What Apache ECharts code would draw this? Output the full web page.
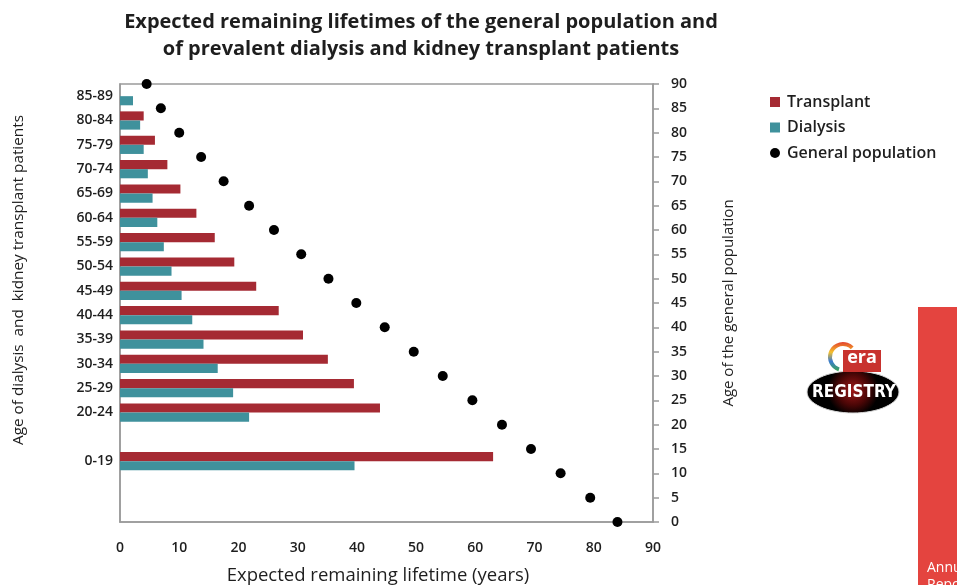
<!DOCTYPE html>
<html>
<head>
<meta charset="utf-8">
<script src="https://cdn.jsdelivr.net/npm/echarts@6/dist/echarts.min.js"></script>
<style>
  html, body { margin: 0; padding: 0; background: #ffffff; }
  #chart { width: 957px; height: 585px; }
</style>
</head>
<body>
<div id="chart"></div>
<script>
// Age bands of dialysis / transplant patients (bottom to top, 5-year slots on the left axis)
var ageBands = ['', '', '0-19', '', '20-24', '25-29', '30-34', '35-39', '40-44', '45-49',
                '50-54', '55-59', '60-64', '65-69', '70-74', '75-79', '80-84', '85-89'];

// Expected remaining lifetime (years) per age band
var transplant = [null, null, 63.0, null, 43.9, 39.5, 35.1, 30.9, 26.8, 23.0,
                  19.3, 16.0, 12.9, 10.2, 8.0, 5.9, 4.0, null];
var dialysis   = [null, null, 39.6, null, 21.8, 19.1, 16.5, 14.1, 12.2, 10.4,
                  8.7, 7.4, 6.3, 5.5, 4.7, 4.0, 3.4, 2.2];

// General population: age (right axis) and remaining lifetime (years)
var popAges     = [0, 5, 10, 15, 20, 25, 30, 35, 40, 45, 50, 55, 60, 65, 70, 75, 80, 85, 90];
var popLifetime = [84.0, 79.4, 74.4, 69.4, 64.5, 59.5, 54.5, 49.6, 44.7, 39.9,
                   35.2, 30.6, 26.0, 21.8, 17.5, 13.7, 10.0, 6.9, 4.5];

var lifetimeTicks = { min: 0, max: 90, interval: 10 };
var popAgeTicks   = { min: 0, max: 90, interval: 5 };

var RED = '#A52A33';
var TEAL = '#3F919C';
var AXIS = '#9a9a9a';
var TEXT = '#1e1e1e';
var FONT = '"Open Sans", "Noto Sans", sans-serif';

var chart = echarts.init(document.getElementById('chart'), null, { renderer: 'canvas' });

var popPoints = popAges.map(function (a, i) { return [popLifetime[i], a]; });

chart.setOption({
  backgroundColor: '#ffffff',
  animation: false,
  textStyle: { fontFamily: FONT },
  title: {
    text: 'Expected remaining lifetimes of the general population and\nof prevalent dialysis and kidney transplant patients',
    left: 416,
    top: 4,
    textAlign: 'center',
    textStyle: { fontFamily: FONT, fontSize: 20, fontWeight: 'bold', color: TEXT, lineHeight: 27 }
  },
  legend: {
    orient: 'vertical',
    left: 770,
    top: 94,
    padding: 0,
    itemWidth: 10,
    itemHeight: 10,
    itemGap: 9.5,
    textStyle: { fontFamily: FONT, fontSize: 16, fontWeight: 600, color: TEXT, padding: [0, 0, 0, 2] },
    data: [
      { name: 'Transplant', icon: 'rect' },
      { name: 'Dialysis', icon: 'rect' },
      { name: 'General population', icon: 'circle' }
    ]
  },
  grid: {
    left: 120,
    right: 304,
    top: 84,
    bottom: 63,
    outerBoundsMode: 'none',
    containLabel: false,
    show: true,
    borderColor: AXIS,
    borderWidth: 1.5,
    backgroundColor: 'transparent'
  },
  xAxis: {
    type: 'value',
    min: lifetimeTicks.min,
    max: lifetimeTicks.max,
    interval: lifetimeTicks.interval,
    name: 'Expected remaining lifetime (years)',
    nameLocation: 'middle',
    nameGap: 44,
    nameTextStyle: { fontFamily: FONT, fontSize: 18.5, color: TEXT, padding: [0, 17, 0, 0] },
    axisLine: { show: true, lineStyle: { color: AXIS, width: 1.5 } },
    axisTick: { show: false },
    splitLine: { show: false },
    axisLabel: { margin: 19, fontFamily: FONT, fontSize: 14, fontWeight: 600, color: TEXT }
  },
  yAxis: [
    {
      type: 'category',
      position: 'left',
      data: ageBands,
      axisLine: { show: true, lineStyle: { color: AXIS, width: 1.5 } },
      axisTick: { show: false },
      axisLabel: { margin: 7, fontFamily: FONT, fontSize: 14, fontWeight: 600, color: TEXT }
    },
    {
      type: 'value',
      position: 'right',
      min: popAgeTicks.min,
      max: popAgeTicks.max,
      interval: popAgeTicks.interval,
      name: 'Age of the general population',
      nameLocation: 'middle',
      nameGap: 68,
      nameRotate: 90,
      nameTextStyle: { fontFamily: FONT, fontSize: 15, color: TEXT },
      axisLine: { show: true, lineStyle: { color: AXIS, width: 1.5 } },
      axisTick: { show: true, length: 6, lineStyle: { color: AXIS, width: 1.5 } },
      splitLine: { show: false },
      axisLabel: { margin: 18, fontFamily: FONT, fontSize: 14, fontWeight: 600, color: TEXT }
    }
  ],
  series: [
    {
      name: 'Transplant',
      type: 'bar',
      yAxisIndex: 0,
      data: transplant,
      itemStyle: { color: RED },
      barGap: '0%',
      barCategoryGap: '25%'
    },
    {
      name: 'Dialysis',
      type: 'bar',
      yAxisIndex: 0,
      data: dialysis,
      itemStyle: { color: TEAL },
      barGap: '0%',
      barCategoryGap: '25%'
    },
    {
      name: 'General population',
      type: 'scatter',
      yAxisIndex: 1,
      data: popPoints,
      symbol: 'circle',
      symbolSize: 10,
      itemStyle: { color: '#000000', opacity: 1 },
      z: 5
    }
  ],
  graphic: [
    {
      type: 'text',
      x: 19,
      y: 280,
      rotation: Math.PI / 2,
      style: {
        text: 'Age of dialysis  and  kidney transplant patients',
        align: 'center',
        verticalAlign: 'middle',
        fontFamily: FONT,
        fontSize: 15.3,
        fill: TEXT
      }
    },
    // slide side panel
    {
      type: 'rect',
      shape: { x: 918, y: 307, width: 45, height: 290 },
      style: { fill: '#E4443F' }
    },
    {
      type: 'text',
      x: 927, y: 561,
      style: { text: 'Annual', fontFamily: FONT, fontSize: 14, fill: '#ffffff' }
    },
    {
      type: 'text',
      x: 927, y: 578,
      style: { text: 'Report', fontFamily: FONT, fontSize: 14, fill: '#ffffff' }
    },
    // registry badge
    {
      type: 'group',
      children: [
        {
          type: 'ellipse',
          shape: { cx: 853, cy: 392, rx: 46, ry: 21 },
          style: {
            fill: new echarts.graphic.RadialGradient(0.5, 0.45, 0.6, [
              { offset: 0, color: '#a01818' },
              { offset: 0.6, color: '#4a0606' },
              { offset: 1, color: '#000000' }
            ]),
            stroke: '#d9d9d9', lineWidth: 1
          }
        },
        {
          type: 'text',
          x: 854, y: 393,
          style: {
            text: 'REGISTRY', align: 'center', verticalAlign: 'middle',
            fontFamily: '"DejaVu Sans Condensed", "Liberation Sans Narrow", sans-serif',
            fontWeight: 'bold', fontSize: 17, fill: '#ffffff'
          }
        },
        {
          type: 'rect',
          shape: { x: 843, y: 350, width: 38, height: 17 },
          style: { fill: '#C8322E' }
        },
        {
          type: 'text',
          x: 862, y: 358,
          style: {
            text: 'era', align: 'center', verticalAlign: 'middle',
            fontFamily: FONT, fontWeight: 'bold', fontSize: 18, fill: '#ffffff'
          }
        },
        {
          type: 'rect',
          shape: { x: 843, y: 367, width: 38, height: 5 },
          style: { fill: '#C8322E' }
        },
        {
          type: 'arc',
          shape: { cx: 843, cy: 357, r: 13, startAngle: Math.PI * 0.6, endAngle: Math.PI * 1.75 },
          style: {
            stroke: new echarts.graphic.LinearGradient(0, 0, 0, 1, [
              { offset: 0, color: '#e23b2e' },
              { offset: 0.35, color: '#f5c02a' },
              { offset: 0.65, color: '#3b7bd0' },
              { offset: 1, color: '#3aa84a' }
            ]),
            lineWidth: 4, fill: 'none'
          }
        }
      ]
    }
  ]
});
</script>
</body>
</html>
